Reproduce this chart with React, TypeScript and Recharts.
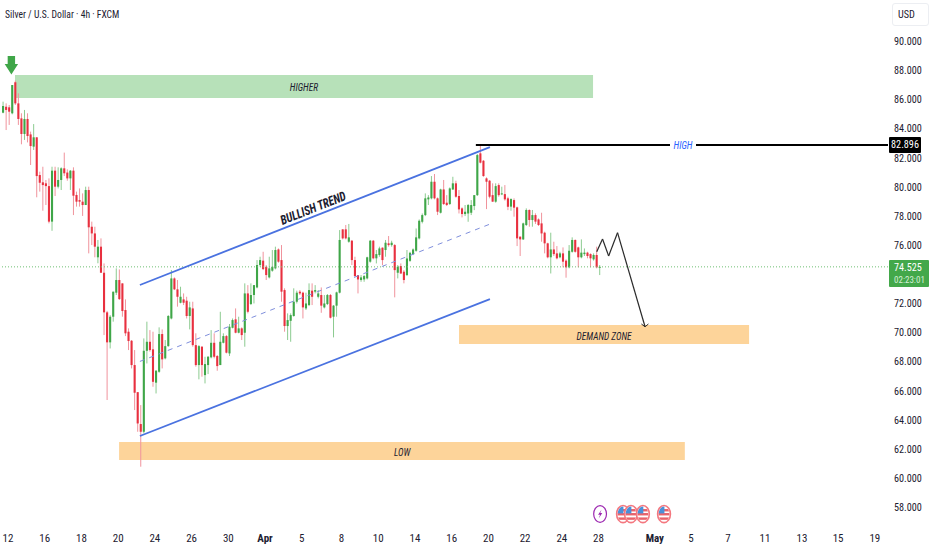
import React from "react";
import { ComposedChart, Bar, XAxis, YAxis, ReferenceArea, ReferenceLine, ReferenceDot } from "recharts";

type C = [number, number, number, number]; // open, high, low, close
const marchDrop: C[] = [
[85.11,85.87,85.07,85.57],[85.52,85.75,83.92,85.30],[85.48,85.64,84.27,85.18],[85.07,87.01,85.0,87.01],[87.2,87.31,85.64,85.75],
[85.75,86.44,84.27,84.68],[84.72,85.07,82.94,83.65],[83.65,85.3,83.24,84.68],[84.68,85.07,83.07,83.51],[83.62,83.81,81.52,82.82],
[82.78,84.33,82.55,83.42],[83.42,83.42,79.3,80.76],[80.83,81.06,79.69,80.30],[80.33,81.4,78.38,80.14],[80.26,80.49,78.77,80.07],
[80.07,80.6,77.51,77.63],[77.63,81.4,77.0,81.13],[81.13,81.4,79.39,80.03],[80.03,81.36,79.91,80.49],[80.49,81.36,79.8,81.29],
[81.29,82.37,80.76,80.95],[81.0,81.22,80.44,80.6],[80.6,81.17,79.8,81.13],[81.13,81.36,78.08,79.41],[79.46,79.69,78.66,79.0],
[79.11,79.91,78.66,79.0],[79.0,79.57,78.02,78.77],[78.77,80.03,78.77,79.8],[79.8,80.03,75.45,77.24],[77.28,77.63,76.02,76.82],
[76.82,77.28,75.18,75.91],[75.18,76.37,74.77,75.91],[75.91,76.48,74.12,74.12],[74.12,74.76,69.84,71.4],[71.4,71.5,65.38,69.34],
[69.34,71.21,68.92,71.1],[71.1,72.82,70.76,72.82],[72.75,74.42,72.59,73.62],[73.62,74.35,72.25,72.31],[73.39,73.39,71.1,71.49],
[71.56,72.29,69.77,69.96],[70.07,70.3,68.81,69.43],[69.45,69.5,67.55,67.78],[67.78,68.81,64.69,65.88],[65.92,65.92,63.2,63.77],
[63.73,65.03,60.8,63.2],
];
const channelEarly: C[] = [
[63.2,69.61,63.09,68.76],[68.76,70.76,67.89,69.38],[69.38,70.18,68.7,68.81],[68.86,70.07,66.29,66.63],[66.57,67.44,65.83,67.39],
[67.32,70.37,67.25,69.91],[69.91,70.23,67.55,68.17],[68.24,69.5,68.17,69.08],[69.08,71.21,69.04,71.15],[70.98,74.31,70.92,73.73],
[73.73,73.8,72.93,72.98],[72.98,73.62,71.79,72.47],[72.06,73.16,72.02,72.47],[72.29,72.7,71.9,72.06],[72.2,72.47,70.98,71.15],
[71.15,72.13,70.23,71.74],[71.67,72.13,69.04,69.15],[69.15,69.96,67.67,67.78],[67.78,69.15,66.8,69.08],[69.04,69.08,66.98,67.78],
[67.09,68.35,66.52,67.85],[67.78,68.4,67.16,68.35],[68.31,70.18,68.24,69.31],[69.31,69.96,68.24,68.35],[68.4,68.47,67.39,67.71],
[67.78,71.44,67.78,69.38],[69.31,69.96,69.27,69.77],[69.77,69.84,68.58,68.63],[68.58,70.6,68.4,70.41],[70.34,70.98,70.3,70.87],
[70.92,71.67,69.96,70.0],[70.0,71.1,69.96,70.3],[70.3,70.37,69.5,69.84],[70.0,73.39,69.04,72.7],
];
const channelMiddle: C[] = [
[72.7,73.27,71.33,71.44],[71.97,73.39,71.9,72.59],[72.59,73.27,72.01,73.27],[73.11,74.99,73.05,74.65],[74.65,75.22,74.53,74.99],
[74.95,75.56,74.3,74.37],[74.53,74.65,73.62,73.96],[73.8,75.22,73.73,74.42],[74.26,75.68,74.19,74.53],[74.42,75.91,74.35,75.68],
[75.72,75.79,74.81,74.88],[74.99,76.02,72.13,72.82],[72.93,73.05,70.07,70.46],[70.46,71.33,69.5,70.87],[70.82,71.33,69.38,71.21],
[71.15,73.05,71.1,72.13],[72.13,72.89,72.01,72.75],[72.82,72.93,72.59,72.7],[72.75,72.82,70.98,71.74],[71.67,72.75,71.56,72.01],
[71.9,73.39,71.83,72.93],[72.89,73.39,71.9,72.47],[72.82,73.27,72.7,72.93],[72.47,72.93,72.36,72.7],[72.59,73.11,71.37,71.86],
[71.74,72.59,71.67,72.01],[71.97,72.66,71.9,72.59],[72.59,72.66,70.98,71.03],[71.1,71.9,69.68,71.86],[71.86,72.82,71.1,72.77],
[72.75,77.05,72.7,76.37],[77.1,77.1,76.41,76.48],[77.1,77.4,76.41,76.48],[76.25,77.47,76.18,76.55],[76.32,76.37,74.65,74.99],
[74.99,75.22,73.85,73.89],[73.96,73.96,72.7,73.66],[73.62,73.96,73.5,73.8],[73.66,73.96,73.5,73.89],[73.73,75.22,73.66,75.18],
[74.88,76.37,74.81,76.32],[76.32,76.37,75.04,75.11],[75.11,75.68,74.76,75.4],[75.34,75.91,75.22,75.79],[75.84,75.86,74.65,74.99],
[75.68,76.37,75.22,76.18],[76.14,76.64,75.91,76.02],[76.02,76.32,75.91,76.18],[76.02,76.09,72.43,74.3],
];
const channelTop: C[] = [
[74.12,74.65,73.73,74.53],[74.58,74.76,74.03,74.07],[74.19,74.3,73.39,73.62],[73.96,75.68,73.89,75.1],[74.94,75.56,74.87,75.49],
[75.4,75.79,75.33,75.72],[75.63,77.16,75.56,76.55],[76.48,77.78,76.41,77.69],[77.62,78.19,77.51,78.08],[78.08,79.57,78.01,79.23],
[79.16,79.45,78.77,79.29],[79.23,80.76,79.16,80.37],[80.37,80.9,79.16,79.23],[79.23,79.29,78.08,78.31],[78.24,79.89,78.19,79.84],
[79.84,80.49,78.77,78.84],[78.93,79.45,78.7,78.77],[78.84,79.98,78.77,79.91],[79.84,80.71,79.8,80.26],[80.26,80.44,79.27,79.34],
[79.39,79.8,78.19,78.47],[78.54,78.61,77.92,78.15],[78.15,78.77,78.01,78.31],[78.19,78.84,77.62,78.77],[78.24,79.11,78.08,78.77],
[78.7,79.45,78.42,79.45],[79.45,82.27,79.39,82.2],[82.32,82.9,81.63,81.68],
];
const aprilSlide: C[] = [
[81.81,81.86,80.71,80.76],[80.6,80.67,78.49,80.37],[80.44,80.49,79.23,79.34],[79.45,80.26,79.0,79.0],[79.0,80.26,78.93,80.07],
[80.14,80.26,79.34,79.45],[79.52,80.03,79.45,79.57],[79.52,80.14,79.07,79.16],[79.23,79.34,78.42,78.65],[78.66,79.23,78.38,79.18],
[79.11,79.23,77.97,78.59],[78.61,78.66,75.95,76.48],[76.6,76.6,75.27,76.41],[76.41,77.56,76.37,77.51],[77.4,78.54,77.33,78.43],
[78.43,78.47,77.28,77.74],[77.74,78.43,77.28,78.08],[78.08,78.2,77.47,77.63],[77.78,77.85,77.33,77.4],[77.51,78.24,76.25,76.82],
[76.87,76.94,75.45,76.14],[76.14,76.18,75.11,75.18],[75.18,76.87,74.07,75.72],[75.72,76.25,75.27,75.4],[75.45,75.95,75.04,75.11],
[75.18,75.56,75.11,75.45],[75.45,75.86,74.49,74.88],[74.95,75.04,73.78,74.49],[74.49,76.02,74.42,75.63],[75.56,76.55,75.5,76.37],
[76.37,76.41,75.5,75.56],[75.86,75.91,74.49,75.18],[75.18,76.41,75.11,75.5],[75.4,75.79,75.27,75.5],[75.5,75.56,75.11,75.27],
[75.4,75.45,74.49,75.11],[75.04,75.45,74.95,75.34],[75.34,75.91,74.42,74.49],[74.47,74.65,73.96,74.525],
];
const candles = [...marchDrop, ...channelEarly, ...channelMiddle, ...channelTop, ...aprilSlide];
const data = candles.map(([o, h, l, c], i) => ({ i, o, h, l, c, range: [l, h] }));

const xTickIndex = [2, 14, 26, 38, 50, 62, 74, 86, 98, 111, 123, 135, 147, 159, 171, 183, 195, 213.4, 225.2, 237.3, 249.4, 261.5, 273.3, 285.3];
const xTickLabels = ["12", "16", "18", "20", "24", "26", "30", "Apr", "5", "8", "10", "14", "16", "20", "22", "24", "28", "May", "5", "7", "11", "13", "15", "19"];
const boldTicks = ["Apr", "May"];
const yTicks = [58, 60, 62, 64, 66, 68, 70, 72, 74, 76, 78, 80, 82, 84, 86, 88, 90];
const shownYTicks = yTicks.filter((t) => t !== 74);

const lastPrice = 74.525;
const highPrice = 82.896;
const countdown = "02:23:01";
const zoneHigher = [4.28, 193.2, 86.12, 87.7];
const zoneLow = [38.3, 223.2, 61.26, 62.49];
const zoneDemand = [149.4, 244.2, 69.22, 70.53];
const channelUpper = [[45.1, 73.28], [159.5, 82.75]];
const channelLower = [[45.1, 62.91], [159.5, 72.31]];
const channelMid = [[45.1, 68.03], [159.5, 77.46]];
const projection = [[194.4, 75.56], [196.3, 76.44], [198.3, 75.27], [201.2, 76.87], [210.2, 70.41]];
const arrowHead = [[209.0, 70.6], [210.2, 70.41], [211.3, 70.6]];
const usEvents = [203, 205.6, 209.5, 216.4];
const boltEvent = 195.5;
const eventPrice = 57.55;

const UP = "#3fa648", DOWN = "#e8303f", UP_W = "#8ccb90", DOWN_W = "#f0939c";
const NARROW = "'Liberation Sans Narrow','Roboto Condensed','Liberation Sans',sans-serif";
const INK = "#1c2030";

const Candle = (p: any) => {
  const { x, y, width, height, payload } = p;
  if (!payload) return null;
  const { o, h, l, c } = payload;
  const k = height / Math.max(h - l, 0.001);
  const cx = x + width / 2 + 1.2;
  const up = c >= o;
  const top = y + (h - Math.max(o, c)) * k;
  const bh = Math.max(Math.abs(o - c) * k, 1);
  return (
    <g>
      <line x1={cx} x2={cx} y1={y} y2={y + height} stroke={up ? UP_W : DOWN_W} strokeWidth={1} />
      <rect x={cx - 1.05} y={top} width={2.1} height={bh} fill={up ? UP : DOWN} />
    </g>
  );
};

const seg = (pts: number[][]) => pts.slice(1).map((p, k) => [{ x: pts[k][0], y: pts[k][1] }, { x: p[0], y: p[1] }]);

const ChartText = (text: string, size: number, angle = 0, color = INK, bg = false) => (p: any) => (
  <g transform={`translate(${p.cx},${p.cy}) rotate(${angle})`}>
    {bg && <rect x={-13} y={-7} width={26} height={14} fill="#fff" />}
    <text transform="scale(0.85,1)" textAnchor="middle" dominantBaseline="central" fontFamily={NARROW} fontStyle="italic" fontWeight={angle ? 700 : 400} fontSize={size} fill={color}>{text}</text>
  </g>
);

const DownArrow = (p: any) => (
  <polygon
    transform={`translate(${p.cx},${p.cy})`}
    points="-3.7,-10 3.7,-10 3.7,-2 6.7,-2 0,8.6 -6.7,-2 -3.7,-2"
    fill="#3fa648"
  />
);

const FlagIcon = (id: string) => (p: any) => (
  <g transform={`translate(${p.cx},${p.cy})`}>
    <clipPath id={id}><ellipse rx={5.4} ry={7.6} /></clipPath>
    <ellipse rx={6.4} ry={8.6} fill="#fff" stroke="#f4777f" strokeWidth={1.6} />
    <g clipPath={`url(#${id})`}>
      <rect x={-6} y={-1} width={12} height={2.4} fill="#e8636b" />
      <rect x={-6} y={3.4} width={12} height={2.4} fill="#e8636b" />
      <rect x={0} y={-5} width={6} height={2.4} fill="#e8636b" />
      <rect x={-6} y={-8} width={6.4} height={7.4} fill="#4a90d9" />
    </g>
  </g>
);

const BoltIcon = (p: any) => (
  <g transform={`translate(${p.cx},${p.cy})`}>
    <ellipse rx={6.4} ry={8.4} fill="#fff" stroke="#9c27b0" strokeWidth={1.2} />
    <path d="M1.4,-4.4 L-2,0.8 L0,0.8 L-1.4,4.4 L2.2,-1 L0.2,-1 Z" fill="#9c27b0" />
  </g>
);

const XTick = (p: any) => {
  const label = xTickLabels[p.index];
  return (
    <text x={p.x} y={p.y} textAnchor="middle" dominantBaseline="central" fontFamily={NARROW} fontSize={11} fontWeight={boldTicks.includes(label) ? 700 : 400} fill={INK}>
      {label}
    </text>
  );
};

const box = (l: number, t: number, w: number, h: number): React.CSSProperties => ({ position: "absolute", left: l, top: t, width: w, height: h, boxSizing: "border-box", fontFamily: NARROW });

export default function App() {
  const lineProps = { ifOverflow: "visible" as const };
  return (
    <div style={{ position: "absolute", left: 0, top: 0, width: 932, height: 550, background: "#fff", overflow: "hidden" }}>
      <ComposedChart width={932} height={550} data={data} margin={{ top: 0, right: 0, bottom: 0, left: 0 }}>
        <XAxis dataKey="i" type="number" domain={[-0.62, 289.6]} ticks={xTickIndex} interval={0} allowDataOverflow tick={<XTick />} tickLine={false} axisLine={false} height={30} tickMargin={12} />
        <YAxis orientation="right" domain={[57.14, 92.85]} ticks={shownYTicks} interval={0} allowDataOverflow width={44} tickLine={false} axisLine={false} tickMargin={0} tickFormatter={(v: number) => v.toFixed(3)} tick={{ fontFamily: NARROW, fontSize: 10.2, fill: INK, textAnchor: "start" }} />
        <ReferenceArea x1={zoneHigher[0]} x2={zoneHigher[1]} y1={zoneHigher[2]} y2={zoneHigher[3]} fill="#b7e1b9" fillOpacity={1} stroke="none" {...lineProps} />
        <ReferenceArea x1={zoneLow[0]} x2={zoneLow[1]} y1={zoneLow[2]} y2={zoneLow[3]} fill="#fdd49a" fillOpacity={1} stroke="none" {...lineProps} />
        <ReferenceArea x1={zoneDemand[0]} x2={zoneDemand[1]} y1={zoneDemand[2]} y2={zoneDemand[3]} fill="#fdd49a" fillOpacity={1} stroke="none" {...lineProps} />
        <ReferenceLine y={lastPrice} stroke="#6fbf73" strokeDasharray="1 2" strokeWidth={1} />
        <Bar dataKey="range" shape={<Candle />} barSize={3} isAnimationActive={false} />
        {seg(channelUpper).map((s, k) => <ReferenceLine key={"u" + k} segment={s} stroke="#4a72e0" strokeWidth={1.8} {...lineProps} />)}
        {seg(channelLower).map((s, k) => <ReferenceLine key={"l" + k} segment={s} stroke="#4a72e0" strokeWidth={1.8} {...lineProps} />)}
        {seg(channelMid).map((s, k) => <ReferenceLine key={"m" + k} segment={s} stroke="#7f8fdc" strokeWidth={1} strokeDasharray="5 5" {...lineProps} />)}
        <ReferenceLine segment={[{ x: 154.9, y: highPrice }, { x: 289.6, y: highPrice }]} stroke="#000" strokeWidth={2} {...lineProps} />
        {seg(projection).map((s, k) => <ReferenceLine key={"p" + k} segment={s} stroke="#2a2a2a" strokeWidth={1.2} {...lineProps} />)}
        {seg(arrowHead).map((s, k) => <ReferenceLine key={"a" + k} segment={s} stroke="#2a2a2a" strokeWidth={1} {...lineProps} />)}
        <ReferenceDot x={3.1} y={88.32} r={1} shape={DownArrow} {...lineProps} />
        <ReferenceDot x={98.7} y={86.85} r={1} shape={ChartText("HIGHER", 11)} {...lineProps} />
        <ReferenceDot x={130.8} y={61.8} r={1} shape={ChartText("LOW", 11)} {...lineProps} />
        <ReferenceDot x={196.8} y={69.75} r={1} shape={ChartText("DEMAND ZONE", 11)} {...lineProps} />
        <ReferenceDot x={101.7} y={78.55} r={1} shape={ChartText("BULLISH TREND", 13, -21.5)} {...lineProps} />
        <ReferenceDot x={222.6} y={highPrice} r={1} shape={ChartText("HIGH", 11, 0, "#2962ff", true)} {...lineProps} />
        <ReferenceDot x={boltEvent} y={eventPrice} r={1} shape={BoltIcon} {...lineProps} />
        {usEvents.map((x, k) => <ReferenceDot key={x} x={x} y={eventPrice} r={1} shape={FlagIcon("flag" + k)} {...lineProps} />)}
      </ComposedChart>
      <div style={{ ...box(5, 8, 200, 14), fontSize: 11, color: INK, lineHeight: "14px", whiteSpace: "nowrap", transform: "scaleX(0.875)", transformOrigin: "left center" }}>Silver / U.S. Dollar · 4h · FXCM</div>
      <div style={{ ...box(892, 3, 37, 23), border: "1px solid #eceef2", borderRadius: 3, fontSize: 10.2, color: INK, paddingLeft: 5, lineHeight: "21px" }}>USD</div>
      <div style={{ ...box(889, 137, 32, 16), background: "#000", color: "#fff", fontSize: 10.2, textAlign: "center", lineHeight: "16px", borderRadius: 1 }}>{highPrice.toFixed(3)}</div>
      <div style={{ ...box(889, 260, 40, 27), background: "#43a84a", color: "#fff", fontSize: 10.2, paddingLeft: 5, lineHeight: "13px", paddingTop: 1, borderRadius: 1 }}>
        <div>{lastPrice.toFixed(3)}</div>
        <div style={{ color: "#d7efd8", fontSize: 9 }}>{countdown}</div>
      </div>
    </div>
  );
}
